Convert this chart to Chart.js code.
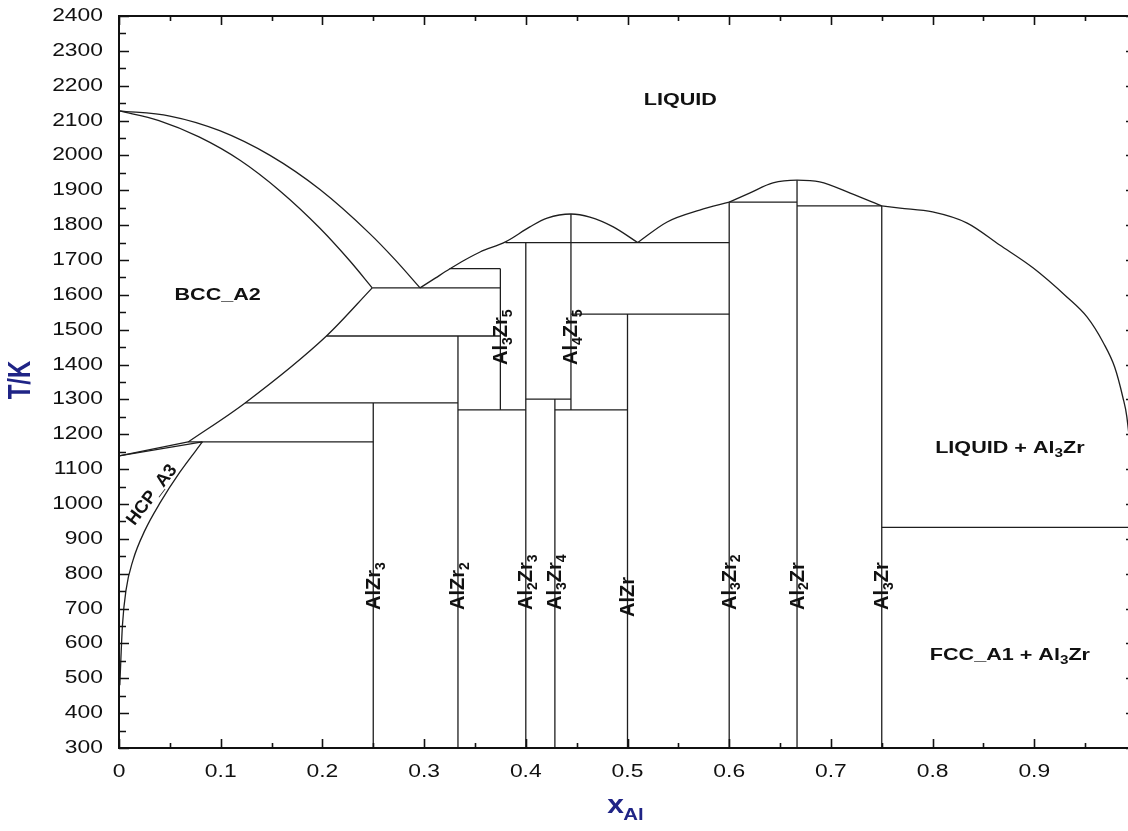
<!DOCTYPE html>
<html>
<head>
<meta charset="utf-8">
<title>Al–Zr phase diagram</title>
<script src="https://cdn.jsdelivr.net/npm/chart.js@4/dist/chart.umd.min.js"></script>
<style>
  html, body { margin: 0; padding: 0; background: #fff; overflow: hidden; }
  canvas { display: block; }
</style>
</head>
<body>
<canvas id="pd" width="1140" height="831"></canvas>
<script>
// ---- axis ticks ----
const tempTicks = [300, 400, 500, 600, 700, 800, 900, 1000, 1100, 1200, 1300, 1400, 1500,
                   1600, 1700, 1800, 1900, 2000, 2100, 2200, 2300, 2400];
const fracTicks = [0, 0.1, 0.2, 0.3, 0.4, 0.5, 0.6, 0.7, 0.8, 0.9];
const fracTickLabels = ['0', '0.1', '0.2', '0.3', '0.4', '0.5', '0.6', '0.7', '0.8', '0.9'];

// ---- phase boundaries, [x_Al, T/K] ----
// liquidus and solidus of the Zr-rich BCC phase
const liquidusBcc = [[0, 2128], [0.050, 2113], [0.099, 2071], [0.1485, 2000], [0.1976, 1902],
                     [0.2468, 1775], [0.2714, 1701], [0.296, 1620]];
const solidusBcc  = [[0, 2128], [0.0393, 2100], [0.0787, 2053], [0.119, 1986], [0.1583, 1898],
                     [0.1976, 1791], [0.2271, 1697], [0.249, 1620]];
// lower limit of BCC
const solvusBcc   = [[0.068, 1178], [0.124, 1290], [0.204, 1482], [0.249, 1620]];
// HCP / BCC transition and HCP solvus
const betaTransus  = [[0, 1138], [0.068, 1178]];
const alphaTransus = [[0, 1138], [0.082, 1178]];
const solvusHcp    = [[0.0008, 480], [0.0018, 552], [0.0034, 653], [0.0069, 753], [0.0138, 839],
                      [0.0256, 925], [0.0403, 1003], [0.060, 1092], [0.082, 1178]];
// liquidus segments between the compounds
const liquidusMid  = [[0.296, 1620], [0.311, 1648], [0.325, 1674], [0.340, 1700], [0.355, 1723],
                      [0.380, 1752], [0.404, 1795], [0.421, 1820], [0.4444, 1832], [0.463, 1823],
                      [0.486, 1795], [0.510, 1750]];
const liquidusAl3Zr2 = [[0.510, 1750], [0.539, 1809], [0.571, 1843], [0.6, 1866]];
const liquidusAl2Zr  = [[0.6, 1866], [0.620, 1892], [0.643, 1921], [0.6667, 1929],
                        [0.689, 1924], [0.719, 1892], [0.75, 1855]];
const liquidusAl3Zr  = [[0.75, 1855], [0.768, 1849], [0.800, 1838], [0.834, 1806], [0.866, 1743],
                        [0.899, 1677], [0.932, 1594], [0.952, 1536], [0.968, 1462], [0.979, 1393],
                        [0.987, 1307], [0.991, 1250], [0.996, 1100], [0.999, 933]];

// ---- compounds: composition and stability range ----
const compoundNames = ['AlZr{3}', 'AlZr{2}', 'Al{3}Zr{5}', 'Al{2}Zr{3}', 'Al{3}Zr{4}',
                       'Al{4}Zr{5}', 'AlZr', 'Al{3}Zr{2}', 'Al{2}Zr', 'Al{3}Zr'];
const compoundX    = [0.25, 0.3333, 0.375, 0.4, 0.4286, 0.4444, 0.5, 0.6, 0.6667, 0.75];
const compoundTlow = [300, 300, 1270, 300, 300, 1270, 300, 300, 300, 300];
const compoundTtop = [1290, 1482, 1675, 1750, 1301, 1832, 1545, 1866, 1929, 1855];

// ---- invariant reaction lines ----
const invariantT    = [1178, 1290, 1482, 1620, 1675, 1750, 1301, 1270, 1270, 1545, 1866, 1855, 933];
const invariantFrom = [0.068, 0.124, 0.204, 0.249, 0.325, 0.380, 0.4, 0.3333, 0.4286, 0.4444, 0.6, 0.6667, 0.75];
const invariantTo   = [0.25, 0.3333, 0.375, 0.375, 0.375, 0.6, 0.4444, 0.4, 0.5, 0.6, 0.6667, 0.75, 1.0];

// ---- region names ----
const regionNames = ['LIQUID', 'BCC_A2', 'LIQUID + Al{3}Zr', 'FCC_A1 + Al{3}Zr'];
const regionX     = [0.552, 0.097, 0.876, 0.876];
const regionT     = [2159, 1600, 1161, 567];

const LINE = '#1e1e1e';
const NAVY = '#1f2486';
const FONT = '"Liberation Sans", Arial, sans-serif';
const SX = 1.27; // horizontal widening of the lettering

const curve = (pts, smooth) => ({
  data: pts.map(([x, t]) => ({ x, y: t })),
  showLine: true, borderColor: LINE, borderWidth: 1.3, pointRadius: 0,
  cubicInterpolationMode: smooth ? 'monotone' : 'default',
  tension: 0, fill: false
});

const datasets = [];
[liquidusBcc, solidusBcc, solvusBcc, solvusHcp, liquidusMid,
 liquidusAl3Zr2, liquidusAl2Zr, liquidusAl3Zr].forEach(c => datasets.push(curve(c, true)));
[betaTransus, alphaTransus].forEach(c => datasets.push(curve(c, false)));
compoundX.forEach((x, i) => datasets.push(curve([[x, compoundTlow[i]], [x, compoundTtop[i]]], false)));
invariantT.forEach((t, i) => datasets.push(curve([[invariantFrom[i], t], [invariantTo[i], t]], false)));

// text with {n} subscripts, optionally rotated and widened
function drawRich(ctx, text, px, py, o) {
  const size = o.size, sub = Math.round(size * 0.7);
  const weight = o.bold ? 'bold ' : '';
  const segs = [];
  text.split(/(\{[^}]*\})/).forEach(s => {
    if (!s) return;
    if (s[0] === '{') segs.push({ t: s.slice(1, -1), sub: true });
    else segs.push({ t: s, sub: false });
  });
  ctx.save();
  ctx.translate(px, py);
  ctx.scale(o.sx || SX, 1);
  ctx.rotate(o.rot || 0);
  ctx.fillStyle = o.color || '#111';
  ctx.textBaseline = 'middle';
  ctx.textAlign = 'left';
  let total = 0;
  segs.forEach(s => {
    ctx.font = weight + (s.sub ? sub : size) + 'px ' + FONT;
    s.w = ctx.measureText(s.t).width;
    total += s.w;
  });
  let cx = o.align === 'left' ? 0 : o.align === 'right' ? -total : -total / 2;
  segs.forEach(s => {
    ctx.font = weight + (s.sub ? sub : size) + 'px ' + FONT;
    ctx.fillText(s.t, cx, s.sub ? size * 0.32 : 0);
    cx += s.w;
  });
  ctx.restore();
}

const framePlugin = {
  id: 'frame',
  afterDatasetsDraw(chart) {
    const { ctx, chartArea: a, scales: { x, y } } = chart;
    ctx.save();
    // frame
    ctx.strokeStyle = '#111';
    ctx.lineWidth = 2;
    ctx.strokeRect(a.left, a.top, a.right - a.left, a.bottom - a.top);
    // ticks, pointing inward
    ctx.lineWidth = 1.6;
    ctx.beginPath();
    for (let t = 300; t <= 2400; t += 50) {
      const py = Math.round(y.getPixelForValue(t)) + 0.5;
      const len = t % 100 === 0 ? 10 : 7;
      ctx.moveTo(a.left, py); ctx.lineTo(a.left + len, py);
      ctx.moveTo(a.right, py); ctx.lineTo(a.right - len, py);
    }
    for (let k = 0; k <= 20; k++) {
      const px = Math.round(x.getPixelForValue(k * 0.05)) + 0.5;
      const len = k % 2 === 0 ? 9 : 5;
      ctx.moveTo(px, a.bottom); ctx.lineTo(px, a.bottom - len);
      ctx.moveTo(px, a.top); ctx.lineTo(px, a.top + len);
    }
    ctx.stroke();

    // tick labels
    tempTicks.forEach(t => drawRich(ctx, String(t), a.left - 16, y.getPixelForValue(t),
      { size: 18, align: 'right' }));
    fracTicks.forEach((f, i) => drawRich(ctx, fracTickLabels[i], x.getPixelForValue(f), a.bottom + 24,
      { size: 18, align: 'center' }));

    // axis titles
    drawRich(ctx, 'T/K', 22, (a.top + a.bottom) / 2 - 2,
      { size: 24, bold: true, color: NAVY, rot: -Math.PI / 2 });
    drawRich(ctx, 'x', x.getPixelForValue(0.48), a.bottom + 58,
      { size: 25, bold: true, color: NAVY, align: 'left', sx: 1.2 });
    drawRich(ctx, 'Al', x.getPixelForValue(0.48) + 16, a.bottom + 67,
      { size: 17, bold: true, color: NAVY, align: 'left', sx: 1.2 });

    // phase regions
    regionNames.forEach((n, i) => drawRich(ctx, n, x.getPixelForValue(regionX[i]),
      y.getPixelForValue(regionT[i]), { size: 17, bold: true }));
    drawRich(ctx, 'HCP_A3', x.getPixelForValue(0.0325), y.getPixelForValue(1026),
      { size: 18, bold: true, rot: -0.92, sx: 1.0 });

    // compound names along their lines
    compoundNames.forEach((n, i) => {
      const hi = compoundTlow[i] > 300;
      const base = hi ? 1399 : (n === 'AlZr' ? 676 : 696);
      drawRich(ctx, n, x.getPixelForValue(compoundX[i]) + 1, y.getPixelForValue(base),
        { size: 20, bold: true, rot: -Math.PI / 2, align: 'left', sx: 1.0 });
    });
    ctx.restore();
  }
};

new Chart(document.getElementById('pd'), {
  type: 'scatter',
  data: { datasets },
  options: {
    responsive: false,
    animation: false,
    events: [],
    layout: { padding: { left: 119, top: 16, right: 4, bottom: 83 } },
    plugins: { legend: { display: false }, tooltip: { enabled: false } },
    scales: {
      x: { type: 'linear', min: 0, max: 1, display: false },
      y: { type: 'linear', min: 300, max: 2400, display: false }
    }
  },
  plugins: [framePlugin]
});
</script>
</body>
</html>
